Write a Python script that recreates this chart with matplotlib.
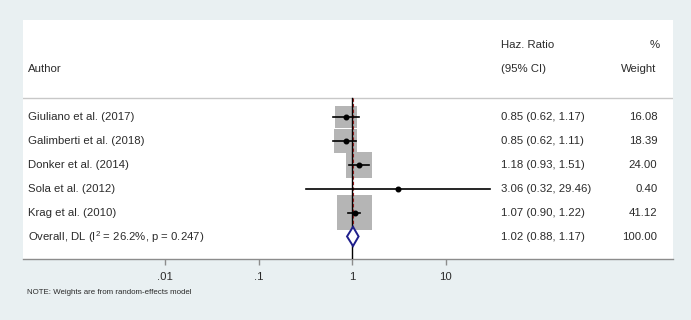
import numpy as np
import matplotlib.pyplot as plt
from matplotlib.patches import Polygon
from matplotlib.transforms import blended_transform_factory

plt.rcParams['font.family'] = ['Liberation Sans', 'DejaVu Sans']
plt.rcParams['mathtext.fontset'] = 'custom'
plt.rcParams['mathtext.rm'] = 'Liberation Sans'

authors = ["Giuliano et al. (2017)", "Galimberti et al. (2018)", "Donker et al. (2014)",
           "Sola et al. (2012)", "Krag et al. (2010)"]
hr = [0.85, 0.85, 1.18, 3.06, 1.07]
lo = [0.62, 0.62, 0.93, 0.32, 0.90]
hi = [1.17, 1.11, 1.51, 29.46, 1.22]
weights = [16.08, 18.39, 24.00, 0.40, 41.12]
overall_label = r"Overall, DL (I$^{2}$ = 26.2%, p = 0.247)"
overall = [1.02, 0.88, 1.17]
overall_weight = 100.00
xticks = [0.01, 0.1, 1, 10]
xticklabels = [".01", ".1", "1", "10"]

bg = '#e9f0f2'
txt = '#2b2b2b'
fig = plt.figure(figsize=(6.91, 3.20), dpi=100, facecolor=bg)
ax = fig.add_axes([23/691, 61/320, 650/691, 239/320])
ax.set_facecolor('white')

ax.set_xscale('log')
ax.set_xlim(10**-3.52, 10**3.43)
ax.set_ylim(5.92, -4.04)
for s in ['top', 'left', 'right']:
    ax.spines[s].set_visible(False)
ax.spines['bottom'].set_color('#8c8c8c')
ax.spines['bottom'].set_linewidth(1.0)
ax.set_xticks(xticks)
ax.set_xticklabels(xticklabels)
ax.minorticks_off()
ax.tick_params(axis='x', direction='out', length=4, width=1, color='#8c8c8c',
               labelsize=8.2, labelcolor=txt, pad=5)
ax.set_yticks([])

rows = np.arange(len(authors))

# header separator
ax.axhline(-0.79, color='#c8c8c8', lw=1.0)
# null line
ax.plot([1, 1], [-0.79, 5.92], color='black', lw=1.0, zorder=4)
# overall effect line
ax.plot([overall[0]] * 2, [-0.79, 4.6], color='#8b1a1a', lw=0.8, ls=(0, (3, 2)), zorder=5)

# weight boxes
side = 35 * np.sqrt(np.array(weights) / max(weights))
ax.scatter(hr, rows, s=(side * 0.72) ** 2, marker='s', color='#b5b5b5', lw=0, zorder=2)
# CIs and points
for i in range(len(authors)):
    ax.plot([lo[i], hi[i]], [rows[i]] * 2, color='black', lw=1.2, zorder=6)
ax.plot(hr, rows, 'o', color='black', ms=3.3, zorder=7)

# overall diamond
yo = 4.98
h = 0.4
diamond = Polygon([(overall[1], yo), (overall[0], yo - h), (overall[2], yo), (overall[0], yo + h)],
                  closed=True, facecolor='white', edgecolor='#1f1f8c', lw=1.4, zorder=8)
ax.add_patch(diamond)

# text columns
tr = blended_transform_factory(ax.transAxes, ax.transData)
fs = 8.2
ax.text(0.007, -2, "Author", transform=tr, fontsize=fs, va='center', color=txt)
ax.text(0.735, -3, "Haz. Ratio", transform=tr, fontsize=fs, va='center', color=txt)
ax.text(0.735, -2, "(95% CI)", transform=tr, fontsize=fs, va='center', color=txt)
ax.text(0.98, -3, "%", transform=tr, fontsize=fs, va='center', ha='right', color=txt)
ax.text(0.974, -2, "Weight", transform=tr, fontsize=fs, va='center', ha='right', color=txt)

for i in range(len(authors)):
    ax.text(0.007, rows[i], authors[i], transform=tr, fontsize=fs, va='center', color=txt)
    ax.text(0.735, rows[i], f"{hr[i]:.2f} ({lo[i]:.2f}, {hi[i]:.2f})", transform=tr,
            fontsize=fs, va='center', color=txt)
    ax.text(0.976, rows[i], f"{weights[i]:.2f}", transform=tr, fontsize=fs, va='center',
            ha='right', color=txt)

ax.text(0.007, 5, overall_label, transform=tr, fontsize=fs, va='center', color=txt)
ax.text(0.735, 5, f"{overall[0]:.2f} ({overall[1]:.2f}, {overall[2]:.2f})", transform=tr,
        fontsize=fs, va='center', color=txt)
ax.text(0.976, 5, f"{overall_weight:.2f}", transform=tr, fontsize=fs, va='center',
        ha='right', color=txt)

fig.text(27/691, 1 - 293/320, "NOTE: Weights are from random-effects model", fontsize=5.7,
         va='center', color=txt)

fig.savefig('out.png', dpi=100, facecolor=bg)
